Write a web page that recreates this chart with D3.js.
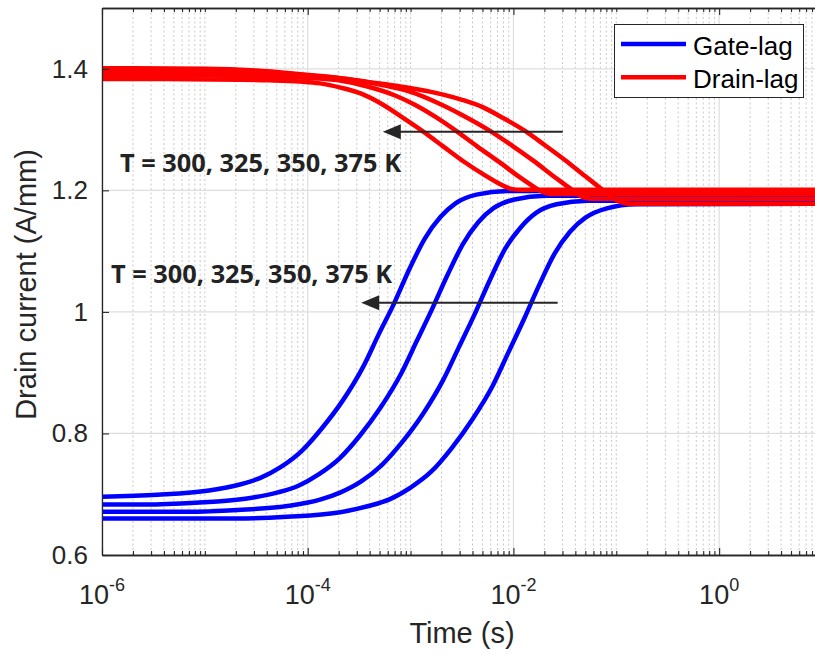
<!DOCTYPE html>
<html>
<head>
<meta charset="utf-8">
<script src="https://cdn.jsdelivr.net/npm/d3@7"></script>
<style>
  body { margin: 0; background: #fff; }
  svg { display: block; font-family: "Liberation Sans", Arial, sans-serif; }
</style>
</head>
<body>
<div id="chart"><svg width="815" height="654"></svg></div>
<script>
// log10(time) samples and drain current (A/mm)
const gate375LogT = [-6, -5.46, -4.96, -4.66, -4.46, -4.26, -4.06, -3.86, -3.66, -3.46, -3.31, -3.16, -3.01, -2.86, -2.71, -2.56, -2.36, -2.06, 1];
const gate375I    = [0.696, 0.699, 0.706, 0.716, 0.727, 0.745, 0.771, 0.809, 0.854, 0.910, 0.963, 1.014, 1.071, 1.121, 1.156, 1.179, 1.193, 1.199, 1.199];
const gate350LogT = [-6, -5.59, -5.09, -4.59, -4.29, -4.09, -3.89, -3.69, -3.49, -3.29, -3.09, -2.94, -2.79, -2.64, -2.49, -2.34, -2.19, -1.99, -1.69, 1];
const gate350I    = [0.683, 0.683, 0.686, 0.693, 0.703, 0.714, 0.733, 0.759, 0.797, 0.843, 0.899, 0.952, 1.005, 1.061, 1.112, 1.148, 1.171, 1.185, 1.191, 1.191];
const gate325LogT = [-6, -5.18, -4.68, -4.18, -3.88, -3.68, -3.48, -3.28, -3.08, -2.88, -2.68, -2.53, -2.38, -2.23, -2.08, -1.93, -1.78, -1.58, -1.28, 1];
const gate325I    = [0.671, 0.671, 0.674, 0.681, 0.691, 0.703, 0.721, 0.748, 0.786, 0.832, 0.889, 0.942, 0.995, 1.052, 1.104, 1.139, 1.163, 1.177, 1.183, 1.183];
const gate300LogT = [-6, -4.7, -4.2, -3.7, -3.4, -3.2, -3.0, -2.8, -2.6, -2.4, -2.2, -2.05, -1.9, -1.75, -1.6, -1.45, -1.3, -1.1, -0.8, 1];
const gate300I    = [0.660, 0.660, 0.663, 0.670, 0.681, 0.692, 0.711, 0.737, 0.776, 0.823, 0.879, 0.933, 0.987, 1.044, 1.096, 1.132, 1.155, 1.170, 1.177, 1.178];

const drain375LogT = [-6, -5.38, -4.68, -4.38, -4.08, -3.88, -3.68, -3.48, -3.28, -3.08, -2.88, -2.68, -2.48, -2.28, -2.16, -2.08, -2.01, -1.93, 1];
const drain375I    = [1.383, 1.383, 1.382, 1.381, 1.379, 1.376, 1.369, 1.359, 1.342, 1.320, 1.297, 1.272, 1.247, 1.225, 1.213, 1.206, 1.202, 1.201, 1.201];
const drain350LogT = [-6, -5, -4.5, -4.0, -3.7, -3.4, -3.15, -2.95, -2.75, -2.55, -2.35, -2.15, -1.95, -1.83, -1.75, -1.69, -1.63, 1];
const drain350I    = [1.389, 1.389, 1.388, 1.385, 1.381, 1.370, 1.356, 1.340, 1.320, 1.297, 1.272, 1.248, 1.223, 1.209, 1.200, 1.196, 1.194, 1.194];
const drain325LogT = [-6, -5, -4.5, -4.0, -3.6, -3.3, -3.0, -2.75, -2.5, -2.22, -2.0, -1.8, -1.6, -1.48, -1.4, -1.34, -1.28, -1.2, 1];
const drain325I    = [1.395, 1.395, 1.393, 1.389, 1.383, 1.374, 1.362, 1.345, 1.324, 1.297, 1.272, 1.248, 1.222, 1.207, 1.197, 1.190, 1.187, 1.186, 1.186];
const drain300LogT = [-6, -5.0, -4.5, -4.07, -3.7, -3.4, -3.1, -2.8, -2.5, -2.3, -2.1, -1.88, -1.7, -1.5, -1.3, -1.15, -1.06, -1.0, -0.94, -0.88, 1];
const drain300I    = [1.401, 1.400, 1.397, 1.391, 1.385, 1.378, 1.371, 1.362, 1.349, 1.337, 1.319, 1.297, 1.275, 1.250, 1.223, 1.203, 1.191, 1.184, 1.180, 1.178, 1.178];

const yTicks = [0.6, 0.8, 1, 1.2, 1.4];
const xMajorExp = [-6, -4, -2, 0];
const legendLabels = ["Gate-lag", "Drain-lag"];
const tempLabel = "T = 300, 325, 350, 375 K";

const BLUE = "#0000ff", RED = "#ff0000", AXIS = "#262626";
const M = {left: 102, top: 8, right: 822, bottom: 555};

const svg = d3.select("#chart svg");
const x = d3.scaleLog().domain([1e-6, 10]).range([M.left, M.right]);
const y = d3.scaleLinear().domain([0.6, 1.5]).range([M.bottom, M.top]);

const toPoints = (logT, vals) => logT.map((lt, i) => ({t: Math.pow(10, lt), i: vals[i]}));

svg.append("clipPath").attr("id", "plotClip")
    .append("rect")
    .attr("x", M.left).attr("y", M.top)
    .attr("width", M.right - M.left).attr("height", M.bottom - M.top);

// grid: solid at labelled decades, dotted at the rest
const allTicks = x.ticks();
const isMajor = (v) => {
    let e = Math.log10(v);
    return Math.abs(e - Math.round(e)) < 1e-9 && xMajorExp.includes(Math.round(e));
};
const minorTicks = allTicks.filter(v => !isMajor(v) && v < 10);
const majorTicks = allTicks.filter(isMajor);

let grid = svg.append("g").attr("class", "grid");
grid.selectAll(".minor").data(minorTicks).join("line")
    .attr("x1", d => x(d)).attr("x2", d => x(d))
    .attr("y1", M.top).attr("y2", M.bottom)
    .attr("stroke", "#c8c8c8").attr("stroke-width", 1)
    .attr("stroke-dasharray", "2,2.5");
grid.selectAll(".major").data(majorTicks).join("line")
    .attr("x1", d => x(d)).attr("x2", d => x(d))
    .attr("y1", M.top).attr("y2", M.bottom)
    .attr("stroke", "#dedede").attr("stroke-width", 1.2);
grid.selectAll(".ymajor").data(yTicks).join("line")
    .attr("x1", M.left).attr("x2", M.right)
    .attr("y1", d => y(d)).attr("y2", d => y(d))
    .attr("stroke", "#dedede").attr("stroke-width", 1.2);

// curves
const line = d3.line().x(d => x(d.t)).y(d => y(d.i)).curve(d3.curveMonotoneX);
const gateSeries = [
    toPoints(gate375LogT, gate375I), toPoints(gate350LogT, gate350I),
    toPoints(gate325LogT, gate325I), toPoints(gate300LogT, gate300I)
];
const drainSeries = [
    toPoints(drain375LogT, drain375I), toPoints(drain350LogT, drain350I),
    toPoints(drain325LogT, drain325I), toPoints(drain300LogT, drain300I)
];

let curves = svg.append("g").attr("clip-path", "url(#plotClip)");
curves.selectAll(".gate").data(gateSeries).join("path")
    .attr("d", line).attr("fill", "none")
    .attr("stroke", BLUE).attr("stroke-width", 4.5);
curves.selectAll(".drain").data(drainSeries).join("path")
    .attr("d", line).attr("fill", "none")
    .attr("stroke", RED).attr("stroke-width", 4.5);

// axes
function styleAxis(g) {
    g.select(".domain").attr("stroke", AXIS).attr("stroke-width", 1.3);
    g.selectAll(".tick line").attr("stroke", AXIS).attr("stroke-width", 1.1);
}
svg.append("g").attr("transform", `translate(0,${M.bottom})`)
    .call(d3.axisBottom(x).tickValues(minorTicks).tickSize(-4).tickSizeOuter(0).tickFormat(""))
    .call(styleAxis);
svg.append("g").attr("transform", `translate(0,${M.bottom})`)
    .call(d3.axisBottom(x).tickValues(majorTicks).tickSize(-7).tickSizeOuter(0).tickFormat(""))
    .call(styleAxis);
svg.append("g").attr("transform", `translate(0,${M.top})`)
    .call(d3.axisTop(x).tickValues(minorTicks).tickSize(-4).tickSizeOuter(0).tickFormat(""))
    .call(styleAxis);
svg.append("g").attr("transform", `translate(0,${M.top})`)
    .call(d3.axisTop(x).tickValues(majorTicks).tickSize(-7).tickSizeOuter(0).tickFormat(""))
    .call(styleAxis);
let yAxis = svg.append("g").attr("transform", `translate(${M.left},0)`)
    .call(d3.axisLeft(y).tickValues(yTicks).tickSize(-7).tickSizeOuter(0)
        .tickPadding(14).tickFormat(d3.format("~g")))
    .call(styleAxis);
yAxis.selectAll("text").attr("font-size", 26).attr("fill", AXIS)
    .attr("font-family", "'Liberation Sans', Arial, sans-serif");

// x tick labels 10^n
let xl = svg.append("g").selectAll("text").data(xMajorExp).join("text")
    .attr("x", d => x(Math.pow(10, d)))
    .attr("y", 604)
    .attr("text-anchor", "middle")
    .attr("fill", AXIS).attr("font-size", 27);
xl.append("tspan").text("10");
xl.append("tspan").attr("dy", -13).attr("font-size", 18).text(d => d);

// axis titles
svg.append("text").attr("x", (M.left + M.right) / 2).attr("y", 643)
    .attr("text-anchor", "middle").attr("font-size", 29).attr("fill", AXIS)
    .text("Time (s)");
svg.append("text").attr("transform", `translate(36,${(M.top + M.bottom) / 2 + 3}) rotate(-90)`)
    .attr("text-anchor", "middle").attr("font-size", 29).attr("fill", AXIS)
    .text("Drain current (A/mm)");

// annotations
function arrow(t0, t1, v) {
    let g = svg.append("g");
    let xs = x(t0), xt = x(t1), yy = y(v);
    g.append("line").attr("x1", xs).attr("x2", xt + 14).attr("y1", yy).attr("y2", yy)
        .attr("stroke", AXIS).attr("stroke-width", 2);
    g.append("path")
        .attr("d", `M${xt},${yy} L${xt + 18},${yy - 7.5} L${xt + 18},${yy + 7.5} Z`)
        .attr("fill", AXIS);
}
arrow(Math.pow(10, -1.52), Math.pow(10, -3.27), 1.2965);
arrow(Math.pow(10, -1.57), Math.pow(10, -3.48), 1.015);

[[-5.825, 1.230], [-5.912, 1.0475]].forEach(([lt, v]) => {
    svg.append("text")
        .attr("x", x(Math.pow(10, lt))).attr("y", y(v))
        .attr("font-family", "'Open Sans', 'Noto Sans', sans-serif")
        .attr("font-weight", "bold").attr("font-size", 25)
        .attr("fill", "#222")
        .attr("textLength", 281).attr("lengthAdjust", "spacingAndGlyphs")
        .text(tempLabel);
});

// legend
let lg = svg.append("g");
lg.append("rect").attr("x", 614.5).attr("y", 24.5).attr("width", 189).attr("height", 73)
    .attr("fill", "#fff").attr("stroke", AXIS).attr("stroke-width", 1);
[BLUE, RED].forEach((c, i) => {
    let yy = 44 + i * 33.3;
    lg.append("line").attr("x1", 621).attr("x2", 686).attr("y1", yy).attr("y2", yy)
        .attr("stroke", c).attr("stroke-width", 4.5);
    lg.append("text").attr("x", 693).attr("y", yy + 10.5)
        .attr("font-size", 26).attr("fill", "#000")
        .text(legendLabels[i]);
});
</script>
</body>
</html>
